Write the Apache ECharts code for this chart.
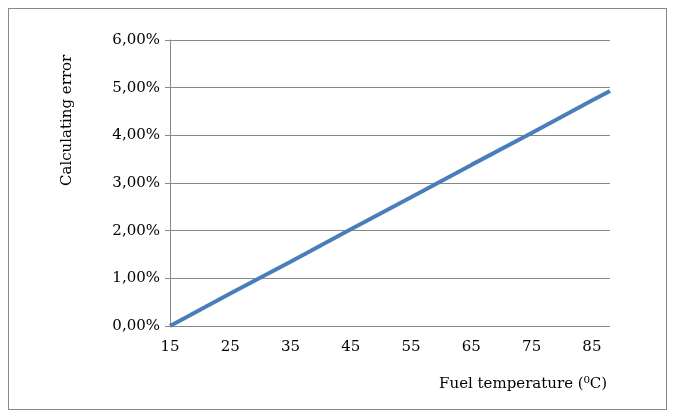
<!DOCTYPE html>
<html>
<head>
<meta charset="utf-8">
<style>
html,body{margin:0;padding:0;width:677px;height:419px;background:#fff}
#frame{position:absolute;left:8px;top:8px;width:659px;height:402px;border:1px solid #888;box-sizing:border-box}
#chart{position:absolute;left:0;top:0;width:677px;height:419px}
</style>
</head>
<body>
<div id="frame"></div>
<div id="chart"></div>
<script src="https://cdn.jsdelivr.net/npm/echarts@6/dist/echarts.min.js"></script>
<script>
var temperatures = [15, 25, 35, 45, 55, 65, 75, 85, 88];
var errors = [0, 0.68, 1.35, 2.03, 2.70, 3.38, 4.05, 4.73, 4.93];
var xTicks = [15, 25, 35, 45, 55, 65, 75, 85];

var font = '"DejaVu Serif", "Liberation Serif", serif';
var chart = echarts.init(document.getElementById('chart'));
chart.setOption({
  animation: false,
  grid: {left: 170, right: 67, top: 40, bottom: 93},
  xAxis: {
    type: 'value', min: 15, max: 88,
    axisLine: {show: false},
    axisTick: {show: false},
    splitLine: {show: false},
    axisLabel: {customValues: xTicks, color: '#000', fontFamily: font, fontSize: 15, margin: 14}
  },
  yAxis: {
    type: 'value', min: 0, max: 6, interval: 1,
    axisLine: {show: true, lineStyle: {color: '#888'}},
    axisTick: {show: true, length: 5, lineStyle: {color: '#888'}},
    splitLine: {lineStyle: {color: '#888'}},
    axisLabel: {color: '#000', fontFamily: font, fontSize: 15, margin: 10,
      formatter: function (v) { return v.toFixed(2).replace('.', ',') + '%'; }}
  },
  series: [{
    type: 'line', symbol: 'none',
    data: temperatures.map(function (t, i) { return [t, errors[i]]; }),
    lineStyle: {color: '#4a7ebb', width: 4}
  }],
  graphic: [
    {type: 'text', x: 607, y: 377,
      style: {text: 'Fuel temperature (⁰C)', font: '15px ' + font, fill: '#000', align: 'right'}},
    {type: 'text', x: 60, y: 186, rotation: Math.PI / 2,
      style: {text: 'Calculating error', font: '15px ' + font, fill: '#000'}}
  ]
});
</script>
</body>
</html>
